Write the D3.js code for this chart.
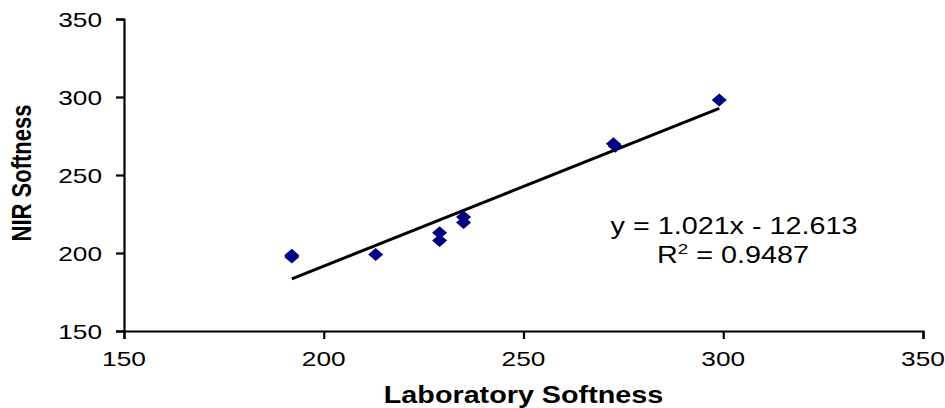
<!DOCTYPE html>
<html>
<head>
<meta charset="utf-8">
<script src="https://cdn.jsdelivr.net/npm/d3@7"></script>
<style>
  html, body { margin: 0; padding: 0; background: #fff; }
  svg { display: block; }
  text { font-family: "Liberation Sans", Arial, sans-serif; fill: #000; }
</style>
</head>
<body>
<svg id="chart" width="945" height="408"></svg>
<script>
// ---- data ----
const labSoftness = [192, 192, 213, 229, 229, 235, 235, 272.5, 273, 299];
const nirSoftness = [197.5, 198.5, 199, 213, 208, 223, 219.5, 270, 268.5, 298];
const xTicks = [150, 200, 250, 300, 350];
const yTicks = [150, 200, 250, 300, 350];
const trendSlope = 1.021;
const trendIntercept = -12.613;
const equationText = "y = 1.021x - 12.613";
const r2Value = "0.9487";
const xTitle = "Laboratory Softness";
const yTitle = "NIR Softness";

// ---- layout ----
const svg = d3.select("#chart");
const stretch = 1.25;
const x = d3.scaleLinear().domain([150, 350]).range([124, 923]);
const y = d3.scaleLinear().domain([150, 350]).range([331, 19]);

// axes
const xAxis = svg.append("g").attr("transform", `translate(0,${y(150)})`)
  .call(d3.axisBottom(x).tickValues(xTicks).tickSize(8).tickFormat(""));
const yAxis = svg.append("g").attr("transform", `translate(${x(150)},0)`)
  .call(d3.axisLeft(y).tickValues(yTicks).tickSize(8).tickFormat(""));
[xAxis, yAxis].forEach(g => {
  g.selectAll("path.domain").attr("stroke", "#000").attr("stroke-width", 2.2);
  g.selectAll(".tick line").attr("stroke", "#000").attr("stroke-width", 2.2);
});

// tick labels
svg.append("g").selectAll("text").data(xTicks).join("text")
  .attr("transform", d => `translate(${x(d)},${y(150) + 35}) scale(${stretch},1)`)
  .attr("text-anchor", "middle")
  .style("font-size", "21px")
  .text(d => d);
svg.append("g").selectAll("text").data(yTicks).join("text")
  .attr("transform", d => `translate(${x(150) - 22},${y(d) + 8}) scale(${stretch},1)`)
  .attr("text-anchor", "end")
  .style("font-size", "21px")
  .text(d => d);

// axis titles
svg.append("text")
  .attr("transform", `translate(${(x(150) + x(350)) / 2},${403}) scale(${stretch},1)`)
  .attr("text-anchor", "middle")
  .style("font-size", "23px").style("font-weight", "bold")
  .text(xTitle);
svg.append("text")
  .attr("transform", `translate(31,${173}) rotate(-90) scale(1,${stretch})`)
  .attr("text-anchor", "middle")
  .style("font-size", "22px").style("font-weight", "bold")
  .text(yTitle);

// trend line
const xMin = d3.min(labSoftness), xMax = d3.max(labSoftness);
svg.append("line")
  .attr("x1", x(xMin)).attr("y1", y(trendSlope * xMin + trendIntercept))
  .attr("x2", x(xMax)).attr("y2", y(trendSlope * xMax + trendIntercept))
  .attr("stroke", "#000").attr("stroke-width", 3);

// points
const hw = 7.5, hh = 6.5;
const diamond = `M0,${-hh}L${hw},0L0,${hh}L${-hw},0Z`;
svg.append("g").selectAll("path").data(labSoftness.map((v, i) => [v, nirSoftness[i]])).join("path")
  .attr("d", diamond)
  .attr("transform", d => `translate(${x(d[0])},${y(d[1])})`)
  .attr("fill", "#000080");

// equation
svg.append("text")
  .attr("transform", `translate(734,234) scale(${stretch},1)`)
  .attr("text-anchor", "middle")
  .style("font-size", "23px")
  .text(equationText);
const r2 = svg.append("text")
  .attr("transform", `translate(733,263) scale(${stretch},1)`)
  .attr("text-anchor", "middle")
  .style("font-size", "23px");
r2.append("tspan").text("R");
r2.append("tspan").attr("dy", -9).style("font-size", "15px").text("2");
r2.append("tspan").attr("dy", 9).text(" = " + r2Value);
</script>
</body>
</html>
